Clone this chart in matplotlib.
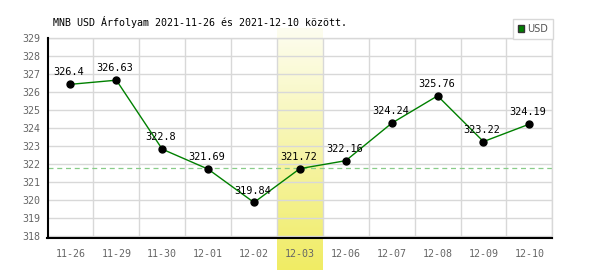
import numpy as np
import matplotlib
matplotlib.use("Agg")
import matplotlib.pyplot as plt
from matplotlib.patches import Patch
from matplotlib.transforms import blended_transform_factory

categories = ["11-26", "11-29", "11-30", "12-01", "12-02", "12-03",
              "12-06", "12-07", "12-08", "12-09", "12-10"]
values = [326.4, 326.63, 322.8, 321.69, 319.84, 321.72,
          322.16, 324.24, 325.76, 323.22, 324.19]
value_labels = ["326.4", "326.63", "322.8", "321.69", "319.84", "321.72",
                "322.16", "324.24", "325.76", "323.22", "324.19"]
reference_level = 321.77
highlight_category = "12-03"
title = "MNB USD Árfolyam 2021-11-26 és 2021-12-10 között."
series_name = "USD"
yticks = list(range(318, 330))

W, H = 600, 270
fig = plt.figure(figsize=(6, 2.7), dpi=100)
ax = fig.add_axes([47.5 / W, 1 - 238.3 / H, (552.3 - 47.5) / W, (238.3 - 37.5) / H])
ax.set_facecolor("white")

x = np.arange(len(categories))
mono = "DejaVu Sans Mono"

# highlight band with gradient
hi = categories.index(highlight_category)
grad = np.linspace(0, 1, 256).reshape(-1, 1)
top_c = np.array([253, 253, 240]) / 255
bot_c = np.array([240, 236, 100]) / 255
img = top_c[None, None, :] * (1 - grad[:, :, None]) + bot_c[None, None, :] * grad[:, :, None]
trans = blended_transform_factory(ax.transData, fig.transFigure)
ax.imshow(img, extent=(hi - 0.5, hi + 0.5, 0, 1 - 28 / H), origin="upper",
          transform=trans, clip_on=False, aspect="auto", zorder=0.5,
          interpolation="bilinear")

ax.axhline(reference_level, color="#88cc88", lw=0.9, ls=(0, (4, 3)), zorder=2)
ax.plot(x, values, color="#008000", lw=1.0, zorder=3)
ax.plot(x, values, "o", color="black", ms=5, zorder=4)
for xi, v, lab in zip(x, values, value_labels):
    ax.annotate(lab, (xi, v), xytext=(-1, 5), textcoords="offset points",
                ha="center", va="bottom", fontsize=7.4, family=mono, color="black",
                zorder=5)

ax.set_xlim(-0.5, len(categories) - 0.5)
ax.set_ylim(317.85, 329.0)
ax.set_xticks(x)
ax.set_xticklabels(categories, family=mono, fontsize=7.2, color="#666666")
ax.set_xticks(np.arange(-0.5, len(categories), 1.0), minor=True)
ax.set_yticks(yticks)
ax.set_yticklabels([str(t) for t in yticks], family=mono, fontsize=7.2, color="#666666")
ax.tick_params(axis="both", which="both", length=0)
ax.tick_params(axis="x", pad=8)
ax.tick_params(axis="y", pad=5)
ax.grid(True, axis="y", which="major", color="#d8d8d8", lw=1.0, zorder=1)
ax.grid(True, axis="x", which="minor", color="#d8d8d8", lw=1.0, zorder=1)
ax.grid(False, axis="x", which="major")
for s in ["top", "right"]:
    ax.spines[s].set_color("#d8d8d8")
    ax.spines[s].set_linewidth(1.0)
for s in ["left", "bottom"]:
    ax.spines[s].set_color("black")
    ax.spines[s].set_linewidth(1.5)
    ax.spines[s].set_zorder(6)

fig.text(53 / W, 1 - 22 / H, title, family=mono, fontsize=7.2, va="center", ha="left")

leg = fig.legend(handles=[Patch(facecolor="#008000", edgecolor="#333333", label=series_name)],
                 loc="upper right", bbox_to_anchor=(553 / W, 1 - 19 / H),
                 borderaxespad=0, fancybox=False, framealpha=1, edgecolor="#d8d8d8",
                 prop={"family": "DejaVu Sans", "size": 7}, handlelength=0.7,
                 handleheight=0.7, handletextpad=0.3, borderpad=0.5)
leg.get_frame().set_linewidth(1.0)
for t in leg.get_texts():
    t.set_color("#555555")

fig.savefig("out.png", dpi=100, facecolor="white")
